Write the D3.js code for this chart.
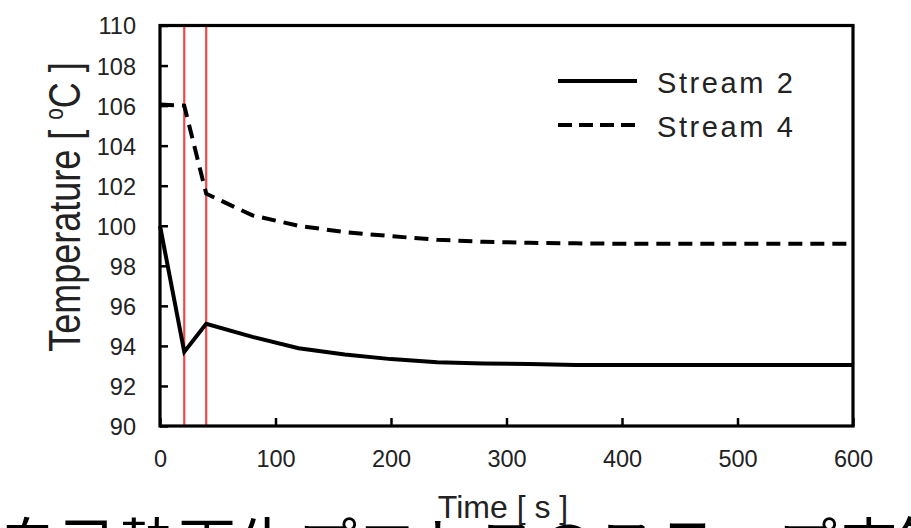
<!DOCTYPE html>
<html>
<head>
<meta charset="utf-8">
<script src="https://cdn.jsdelivr.net/npm/d3@7"></script>
<style>
  html, body { margin: 0; padding: 0; background: #fff; overflow: hidden; }
  svg { display: block; }
</style>
</head>
<body>
<svg id="chart" width="911" height="528"></svg>
<script>
// ---- data ----
const times   = [0, 21, 40, 80, 120, 160, 200, 240, 280, 320, 360, 400, 440, 480, 520, 560, 600];
const stream2 = [100.0, 93.7, 95.1, 94.45, 93.88, 93.57, 93.34, 93.18, 93.12, 93.1, 93.05, 93.05, 93.05, 93.05, 93.05, 93.05, 93.05];
const stream4 = [106.05, 106.0, 101.6, 100.52, 100.0, 99.68, 99.48, 99.3, 99.2, 99.15, 99.12, 99.1, 99.1, 99.1, 99.1, 99.1, 99.1];
const markerTimes = [21, 40];
const xTicks = [0, 100, 200, 300, 400, 500, 600];
const yTicks = [90, 92, 94, 96, 98, 100, 102, 104, 106, 108, 110];
const seriesNames = ["Stream 2", "Stream 4"];
const xLabel = "Time [ s ]";
const yLabelMain = "Temperature [ ";
const yLabelSup = "o";
const yLabelEnd = "C ]";
const caption = "自己熱再生プロセスのステップ応答";

const svg = d3.select("#chart");
svg.append("rect").attr("width", 911).attr("height", 528).attr("fill", "#fff");

// caption (cut off at bottom of the picture)
svg.append("text")
  .attr("x", -3).attr("y", 568)
  .attr("font-family", "'Noto Sans CJK JP', sans-serif")
  .attr("font-size", 60)
  .attr("fill", "#000")
  .text(caption);

const L = 160, R = 853, T = 25.5, B = 426;
const x = d3.scaleLinear().domain([0, 600]).range([L, R]);
const y = d3.scaleLinear().domain([90, 110]).range([B, T]);

const font = "'Liberation Sans', Arial, sans-serif";

// axes
const yAxis = d3.axisLeft(y).tickValues(yTicks).tickSize(-8).tickPadding(24).tickFormat(d3.format("d"));
const gy = svg.append("g").attr("transform", `translate(${L},0)`).call(yAxis);
const xAxis = d3.axisBottom(x).tickValues(xTicks).tickSize(-8).tickPadding(24).tickFormat(d3.format("d"));
const gx = svg.append("g").attr("transform", `translate(0,${B})`).call(xAxis);
[gx, gy].forEach(g => {
  g.select(".domain").remove();
  g.selectAll(".tick line").attr("stroke", "#000").attr("stroke-width", 2.5);
  g.selectAll(".tick text").attr("font-family", font).attr("font-size", 23.5).attr("fill", "#222");
});
gy.selectAll(".tick text").attr("dy", "0.36em");

// red marker lines
svg.append("g").selectAll("line").data(markerTimes).join("line")
  .attr("x1", d => x(d)).attr("x2", d => x(d))
  .attr("y1", T).attr("y2", B)
  .attr("stroke", "#f04848").attr("stroke-width", 2.2);

// data lines
const line = d3.line().x((d, i) => x(times[i])).y(d => y(d));
svg.append("path").datum(stream2).attr("d", line)
  .attr("fill", "none").attr("stroke", "#000").attr("stroke-width", 4).attr("stroke-linejoin", "miter");
svg.append("path").datum(stream4).attr("d", line)
  .attr("fill", "none").attr("stroke", "#000").attr("stroke-width", 4).attr("stroke-dasharray", "14,8");

// frame
svg.append("rect").attr("x", L).attr("y", T).attr("width", R - L).attr("height", B - T)
  .attr("fill", "none").attr("stroke", "#000").attr("stroke-width", 3.2);

// legend
const leg = svg.append("g");
const legRows = [{name: seriesNames[0], dash: null, y: 81}, {name: seriesNames[1], dash: "14,7", y: 125}];
legRows.forEach(r => {
  leg.append("line").attr("x1", 558).attr("x2", 637).attr("y1", r.y).attr("y2", r.y)
    .attr("stroke", "#000").attr("stroke-width", 4).attr("stroke-dasharray", r.dash);
  leg.append("text").attr("x", 657).attr("y", r.y + 12)
    .attr("font-family", font).attr("font-size", 29).attr("letter-spacing", 2.6).attr("fill", "#222")
    .text(r.name);
});

// x label
svg.append("text").attr("x", 503).attr("y", 518).attr("text-anchor", "middle")
  .attr("font-family", font).attr("font-size", 32).attr("fill", "#222").text(xLabel);

// y label
const yl = svg.append("text")
  .attr("transform", "translate(80,207) rotate(-90) scale(0.8,1)")
  .attr("text-anchor", "middle")
  .attr("font-family", font).attr("font-size", 45).attr("fill", "#222");
yl.append("tspan").text(yLabelMain);
yl.append("tspan").attr("font-size", 26).attr("dy", -17).text(yLabelSup);
yl.append("tspan").attr("dy", 17).text(yLabelEnd);
</script>
</body>
</html>
